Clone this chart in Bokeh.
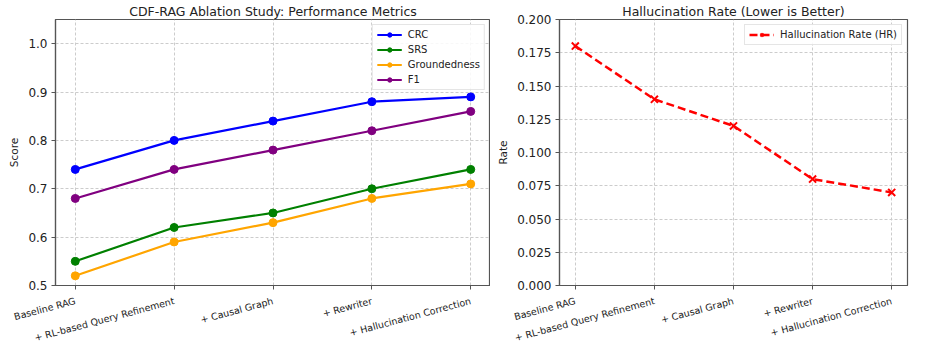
import math
from bokeh.plotting import figure
from bokeh.layouts import row
from bokeh.models import Range1d, FixedTicker, Legend, LegendItem, NumeralTickFormatter
from bokeh.embed import file_html
from bokeh.resources import INLINE

# ---- data ----
stages = ["Baseline RAG", "+ RL-based Query Refinement", "+ Causal Graph",
          "+ Rewriter", "+ Hallucination Correction"]
crc = [0.74, 0.80, 0.84, 0.88, 0.89]
srs = [0.55, 0.62, 0.65, 0.70, 0.74]
groundedness = [0.52, 0.59, 0.63, 0.68, 0.71]
f1 = [0.68, 0.74, 0.78, 0.82, 0.86]
hr = [0.18, 0.14, 0.12, 0.08, 0.07]

left_ticks = [0.5, 0.6, 0.7, 0.8, 0.9, 1.0]
right_ticks = [0.0, 0.025, 0.05, 0.075, 0.1, 0.125, 0.15, 0.175, 0.2]

xs = list(range(len(stages)))
FONT = "DejaVu Sans"
TXT = "#222222"


def style(p, yticks, yfmt):
    p.title.text_font = FONT
    p.title.text_font_size = "12.5px"
    p.title.text_font_style = "normal"
    p.title.text_color = TXT
    p.title.align = "center"
    p.title.standoff = 2
    p.outline_line_color = "#555555"
    p.outline_line_width = 1.2
    p.background_fill_color = "white"
    p.border_fill_color = "white"
    p.xaxis.ticker = FixedTicker(ticks=xs)
    p.xaxis.major_label_overrides = {i: s for i, s in enumerate(stages)}
    p.xaxis.major_label_orientation = math.pi / 12
    p.xaxis.major_label_text_font_size = "9.5px"
    p.xaxis.major_label_standoff = 11
    p.yaxis.ticker = FixedTicker(ticks=yticks)
    p.yaxis.formatter = NumeralTickFormatter(format=yfmt)
    p.yaxis.major_label_text_font_size = "12px"
    p.yaxis.major_label_standoff = 4
    for ax in (p.xaxis, p.yaxis):
        ax.major_label_text_font = FONT
        ax.major_label_text_color = TXT
        ax.axis_line_color = "#555555"
        ax.axis_line_width = 1.2
        ax.major_tick_line_color = "#555555"
        ax.major_tick_in = 0
        ax.major_tick_out = 4
        ax.minor_tick_line_color = None
        ax.axis_label_text_font = FONT
        ax.axis_label_text_font_size = "10.5px"
        ax.axis_label_text_font_style = "normal"
        ax.axis_label_text_color = TXT
        ax.axis_label_standoff = 5
    for g in (p.xgrid, p.ygrid):
        g.grid_line_color = "#cccccc"
        g.grid_line_dash = "3 2"
        g.grid_line_width = 1


def legend_style(lg):
    lg.location = "top_right"
    lg.margin = 5
    lg.padding = 4
    lg.spacing = 4
    lg.label_height = 11
    lg.glyph_height = 11
    lg.glyph_width = 25
    lg.label_standoff = 6
    lg.label_text_font = FONT
    lg.label_text_font_size = "10px"
    lg.label_text_color = TXT
    lg.border_line_color = "#cccccc"
    lg.border_line_width = 1
    lg.background_fill_alpha = 0.85


H = 351
# ---- left: performance metrics ----
p1 = figure(width=490, height=H, output_backend="svg", toolbar_location=None,
            title="CDF-RAG Ablation Study: Performance Metrics",
            x_range=Range1d(-0.2, 4.2), y_range=Range1d(0.5, 1.05),
            min_border_left=55, min_border_right=0, min_border_top=19,
            min_border_bottom=65)
style(p1, left_ticks, "0.0")
p1.yaxis.axis_label = "Score"

items = []
for name, vals, col in [("CRC", crc, "blue"), ("SRS", srs, "green"),
                        ("Groundedness", groundedness, "orange"), ("F1", f1, "purple")]:
    l = p1.line(xs, vals, line_color=col, line_width=2.2)
    c = p1.scatter(xs, vals, marker="circle", size=8, fill_color=col, line_color=col)
    items.append(LegendItem(label=name, renderers=[l, c]))
lg1 = Legend(items=items)
legend_style(lg1)
p1.add_layout(lg1, "center")

# ---- right: hallucination rate ----
p2 = figure(width=429, height=H, output_backend="svg", toolbar_location=None,
            title="Hallucination Rate (Lower is Better)",
            x_range=Range1d(-0.2, 4.2), y_range=Range1d(0.0, 0.2),
            min_border_left=69, min_border_right=12, min_border_top=19,
            min_border_bottom=65)
style(p2, right_ticks, "0.000")
p2.yaxis.axis_label = "Rate"
l2 = p2.line(xs, hr, line_color="red", line_width=2.5, line_dash="8 4")
m2 = p2.scatter(xs, hr, marker="x", size=10, line_color="red", line_width=2)
lg2 = Legend(items=[LegendItem(label="Hallucination Rate (HR)", renderers=[l2, m2])])
legend_style(lg2)
p2.add_layout(lg2, "center")

layout = row(p1, p2)
open("out.html", "w").write(file_html(layout, INLINE))
